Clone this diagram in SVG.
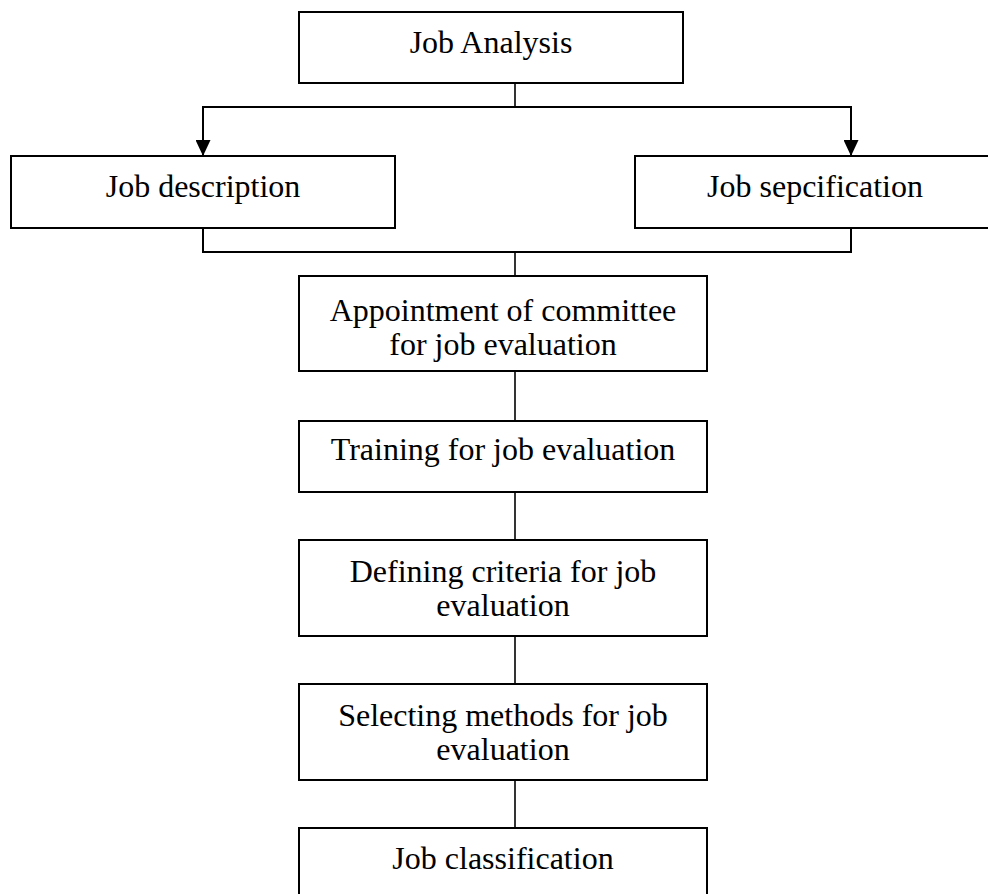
<svg xmlns="http://www.w3.org/2000/svg" width="988" height="894" viewBox="0 0 988 894">
  <style>
    .box { fill: #ffffff; stroke: #000000; stroke-width: 2; }
    .label { font-family: "Liberation Serif", "Times New Roman", serif; font-size: 32px; fill: #000000; text-anchor: middle; }
    .wire { fill: none; stroke: #000000; stroke-width: 2; }
    .thin { fill: none; stroke: #000000; stroke-width: 1.6; }
  </style>
  <defs>
    <!-- solid downward arrowhead, tip on the line end -->
    <marker id="down" markerUnits="userSpaceOnUse" markerWidth="15" markerHeight="16" viewBox="0 0 15 16" refX="7.5" refY="16" orient="0">
      <path d="M0,0 L15,0 L7.5,16 Z" fill="#000000"/>
    </marker>
  </defs>
  <rect width="988" height="894" fill="#ffffff"/>

  <g id="connectors">
    <!-- split from Job Analysis into the two branches -->
    <line class="thin" x1="515" y1="83" x2="515" y2="107"/>
    <line class="wire" x1="202" y1="107" x2="852" y2="107"/>
    <line class="wire" x1="203" y1="107" x2="203" y2="156" marker-end="url(#down)"/>
    <line class="wire" x1="851" y1="107" x2="851" y2="156" marker-end="url(#down)"/>
    <!-- merge of the two branches -->
    <polyline class="wire" points="203,228 203,252 851,252 851,228"/>
    <line class="thin" x1="515" y1="252" x2="515" y2="276"/>
    <!-- main chain -->
    <line class="thin" x1="515" y1="371" x2="515" y2="421"/>
    <line class="thin" x1="515" y1="492" x2="515" y2="540"/>
    <line class="thin" x1="515" y1="636" x2="515" y2="684"/>
    <line class="thin" x1="515" y1="780" x2="515" y2="828"/>
  </g>

  <g id="job-analysis">
    <rect class="box" x="299" y="12" width="384" height="71"/>
    <text class="label" x="491" y="53">Job Analysis</text>
  </g>

  <g id="job-description">
    <rect class="box" x="11" y="156" width="384" height="72"/>
    <text class="label" x="203" y="197">Job description</text>
  </g>

  <g id="job-specification">
    <rect class="box" x="635" y="156" width="360" height="72"/>
    <text class="label" x="815" y="197">Job sepcification</text>
  </g>

  <g id="committee">
    <rect class="box" x="299" y="276" width="408" height="95"/>
    <text class="label" x="503" y="321">Appointment of committee</text>
    <text class="label" x="503" y="355">for job evaluation</text>
  </g>

  <g id="training">
    <rect class="box" x="299" y="421" width="408" height="71"/>
    <text class="label" x="503" y="460">Training for job evaluation</text>
  </g>

  <g id="criteria">
    <rect class="box" x="299" y="540" width="408" height="96"/>
    <text class="label" x="503" y="582">Defining criteria for job</text>
    <text class="label" x="503" y="616">evaluation</text>
  </g>

  <g id="methods">
    <rect class="box" x="299" y="684" width="408" height="96"/>
    <text class="label" x="503" y="726">Selecting methods for job</text>
    <text class="label" x="503" y="760">evaluation</text>
  </g>

  <g id="classification">
    <rect class="box" x="299" y="828" width="408" height="80"/>
    <text class="label" x="503" y="869">Job classification</text>
  </g>
</svg>
